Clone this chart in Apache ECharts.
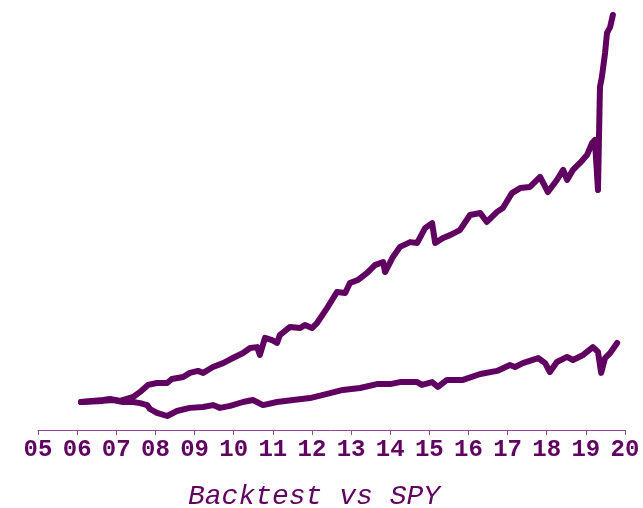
<!DOCTYPE html>
<html>
<head>
<meta charset="utf-8">
<script src="https://cdn.jsdelivr.net/npm/echarts@6/dist/echarts.min.js"></script>
<style>
  html, body { margin: 0; padding: 0; background: #fff; }
  #chart { width: 643px; height: 508px; }
</style>
</head>
<body>
<div id="chart"></div>
<script>
// growth of 1 unit (x in fractional years)
const backtestYears = [2006.10, 2006.66, 2006.84, 2007.10, 2007.27, 2007.43, 2007.61, 2007.81, 2008.04, 2008.30,
  2008.42, 2008.71, 2008.88, 2009.09, 2009.22, 2009.47, 2009.73, 2009.98, 2010.24, 2010.42,
  2010.60, 2010.67, 2010.80, 2010.98, 2011.11, 2011.18, 2011.44, 2011.70, 2011.82, 2012.00,
  2012.13, 2012.39, 2012.64, 2012.85, 2012.97, 2013.18, 2013.41, 2013.61, 2013.82, 2013.87,
  2014.07, 2014.25, 2014.51, 2014.69, 2014.89, 2015.07, 2015.15, 2015.35, 2015.53, 2015.78,
  2016.04, 2016.30, 2016.47, 2016.73, 2016.88, 2017.11, 2017.32, 2017.57, 2017.83, 2018.03,
  2018.26, 2018.42, 2018.52, 2018.67, 2018.85, 2019.03, 2019.16, 2019.23, 2019.31, 2019.36,
  2019.41, 2019.49, 2019.54, 2019.62, 2019.69]
const backtestValues = [1.00, 1.07, 1.11, 1.04, 1.11, 1.18, 1.36, 1.61, 1.68, 1.68,
  1.82, 1.89, 2.04, 2.11, 2.04, 2.25, 2.39, 2.57, 2.75, 2.93,
  2.96, 2.68, 3.29, 3.21, 3.11, 3.39, 3.68, 3.64, 3.75, 3.64,
  3.82, 4.36, 4.93, 4.89, 5.25, 5.36, 5.61, 5.89, 6.00, 5.64,
  6.18, 6.54, 6.71, 6.68, 7.21, 7.39, 6.68, 6.86, 6.96, 7.14,
  7.68, 7.75, 7.43, 7.79, 7.93, 8.46, 8.64, 8.68, 9.04, 8.50,
  8.93, 9.29, 8.93, 9.29, 9.54, 9.82, 10.25, 10.36, 8.57, 12.25,
  12.61, 13.46, 14.18, 14.39, 14.82]

const spyYears = [2006.10, 2006.66, 2006.92, 2007.17, 2007.43, 2007.61, 2007.79, 2007.86, 2008.04, 2008.30,
  2008.55, 2008.88, 2009.22, 2009.47, 2009.65, 2009.91, 2010.24, 2010.49, 2010.75, 2011.11,
  2011.52, 2011.95, 2012.39, 2012.79, 2013.23, 2013.66, 2014.00, 2014.25, 2014.69, 2014.81,
  2015.07, 2015.22, 2015.45, 2015.86, 2016.30, 2016.73, 2017.06, 2017.19, 2017.39, 2017.78,
  2017.96, 2018.08, 2018.26, 2018.52, 2018.67, 2018.93, 2019.18, 2019.31, 2019.39, 2019.49,
  2019.62, 2019.80]
const spyValues = [1.00, 1.04, 1.07, 1.00, 1.00, 0.96, 0.89, 0.75, 0.61, 0.50,
  0.68, 0.79, 0.82, 0.89, 0.79, 0.86, 1.00, 1.07, 0.89, 1.00,
  1.07, 1.14, 1.29, 1.43, 1.50, 1.64, 1.64, 1.71, 1.71, 1.61,
  1.71, 1.54, 1.79, 1.79, 2.00, 2.11, 2.32, 2.25, 2.39, 2.57,
  2.39, 2.07, 2.43, 2.61, 2.50, 2.68, 2.96, 2.79, 2.04, 2.57,
  2.75, 3.11]

const tickLabels = ['05', '06', '07', '08', '09', '10', '11', '12', '13', '14', '15', '16', '17', '18', '19', '20']
const firstYear = 2005

const purple = '#600060'
const font = '"Liberation Mono", "DejaVu Sans Mono", monospace'

const chart = echarts.init(document.getElementById('chart'))

const pairs = (xs, ys) => xs.map((x, i) => [x, ys[i]])

chart.setOption({
  animation: false,
  title: {
    text: 'Backtest vs SPY',
    left: 183,
    top: 478,
    textStyle: {
      fontFamily: font,
      fontStyle: 'italic',
      fontWeight: 'normal',
      fontSize: 28,
      color: purple
    }
  },
  grid: {left: 38, right: 18, top: 10, bottom: 78},
  xAxis: {
    type: 'value',
    min: firstYear,
    max: firstYear + tickLabels.length - 1,
    interval: 1,
    axisLine: {lineStyle: {color: '#8e4a8e', width: 1}},
    axisTick: {length: 5, lineStyle: {color: '#8e4a8e'}},
    splitLine: {show: false},
    axisLabel: {
      margin: 8,
      color: purple,
      fontFamily: font,
      fontWeight: 'bold',
      fontSize: 24,
      formatter: v => tickLabels[Math.round(v - firstYear)]
    }
  },
  yAxis: {
    type: 'value',
    min: 0,
    max: 15,
    show: false
  },
  series: [
    {
      name: 'Backtest',
      type: 'line',
      symbol: 'none',
      data: pairs(backtestYears, backtestValues),
      lineStyle: {color: purple, width: 6, cap: 'round', join: 'round'}
    },
    {
      name: 'SPY',
      type: 'line',
      symbol: 'none',
      data: pairs(spyYears, spyValues),
      lineStyle: {color: purple, width: 6, cap: 'round', join: 'round'}
    }
  ]
})
</script>
</body>
</html>
